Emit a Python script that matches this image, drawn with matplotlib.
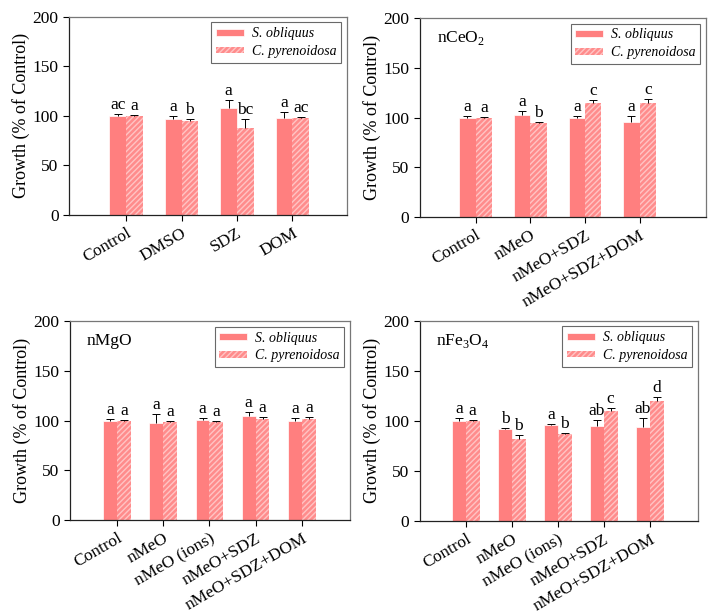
import matplotlib
matplotlib.use('Agg')
import matplotlib.pyplot as plt
import numpy as np

plt.rcParams['font.family'] = ['Liberation Serif', 'DejaVu Serif']
plt.rcParams['mathtext.fontset'] = 'custom'
plt.rcParams['mathtext.rm'] = 'Liberation Serif'
plt.rcParams['hatch.linewidth'] = 1.0

series_names = ['S. obliquus', 'C. pyrenoidosa']

# Panel 1: controls
cats_1 = ['Control', 'DMSO', 'SDZ', 'DOM']
s_1 = [99.5, 97, 108, 97.5]
s_err_1 = [2, 2.5, 8, 6]
c_1 = [99.5, 95, 88, 98.2]
c_err_1 = [1.5, 2, 9, 0.8]
s_lab_1 = ['ac', 'a', 'a', 'a']
c_lab_1 = ['a', 'b', 'bc', 'ac']

# Panel 2: nCeO2
cats_2 = ['Control', 'nMeO', 'nMeO+SDZ', 'nMeO+SDZ+DOM']
s_2 = [99.5, 102.5, 99.5, 95.5]
s_err_2 = [2.5, 4, 2, 6.5]
c_2 = [99.5, 94, 114.3, 114.6]
c_err_2 = [1.5, 1, 3.5, 4.5]
s_lab_2 = ['a', 'a', 'a', 'a']
c_lab_2 = ['a', 'b', 'c', 'c']

# Panel 3: nMgO
cats_3 = ['Control', 'nMeO', 'nMeO (ions)', 'nMeO+SDZ', 'nMeO+SDZ+DOM']
s_3 = [100, 98, 100.7, 104.3, 99.3]
s_err_3 = [2, 9, 1.5, 4.7, 3.7]
c_3 = [100, 98.5, 99, 102, 101.3]
c_err_3 = [1, 1, 1, 2, 2.7]
s_lab_3 = ['a', 'a', 'a', 'a', 'a']
c_lab_3 = ['a', 'a', 'a', 'a', 'a']

# Panel 4: nFe3O4
cats_4 = ['Control', 'nMeO', 'nMeO (ions)', 'nMeO+SDZ', 'nMeO+SDZ+DOM']
s_4 = [100, 92.3, 96.3, 94.7, 93.7]
s_err_4 = [2.5, 1, 0.8, 6.6, 9.3]
c_4 = [100, 81.7, 86.7, 109.7, 120]
c_err_4 = [1, 4, 1.7, 2.7, 4.3]
s_lab_4 = ['a', 'b', 'a', 'ab', 'ab']
c_lab_4 = ['a', 'b', 'b', 'c', 'd']

bar_color = '#ff7f7f'
hatch_face = '#ff8c8c'
hatch_line = '#ffc4c4'
width = 0.3
fs = 12.5

fig = plt.figure(figsize=(7.14, 6.14), dpi=100)


def err_up(ax, x, v, e):
    zeros = np.zeros(len(v))
    _, caps, _ = ax.errorbar(x, v, yerr=[zeros, e], fmt='none', ecolor='black',
                             elinewidth=0.7, capsize=3, capthick=0.7)
    # keep only the upper cap
    caps[0].set_visible(False)


def panel(rect, cats, s, s_err, c, c_err, s_lab, c_lab, xlim, title=None):
    ax = fig.add_axes(rect)
    x = np.arange(len(cats))
    ax.bar(x - width / 2, s, width, color=bar_color, edgecolor='white',
           linewidth=0.5, label=series_names[0])
    ax.bar(x + width / 2, c, width, color=hatch_face, edgecolor=hatch_line,
           linewidth=0, hatch='//////', label=series_names[1])
    err_up(ax, x - width / 2, s, s_err)
    err_up(ax, x + width / 2, c, c_err)
    for xi, v, e, t in zip(x - width / 2, s, s_err, s_lab):
        ax.text(xi, v + e + 1, t, ha='center', va='bottom', fontsize=fs)
    for xi, v, e, t in zip(x + width / 2, c, c_err, c_lab):
        ax.text(xi, v + e + 1, t, ha='center', va='bottom', fontsize=fs)

    ax.set_ylim(0, 200)
    ax.set_xlim(*xlim)
    ax.set_yticks([0, 50, 100, 150, 200])
    ax.set_xticks(x)
    ax.set_xticklabels(cats, rotation=30, ha='right', rotation_mode='anchor',
                       fontsize=fs)
    ax.tick_params(axis='y', labelsize=fs, direction='out', length=4, width=0.8)
    ax.tick_params(axis='x', direction='out', length=4, width=0.8)
    ax.set_ylabel('Growth (% of Control)', fontsize=13, labelpad=2)
    for side in ['left', 'bottom']:
        ax.spines[side].set_color('#222222')
        ax.spines[side].set_linewidth(0.9)
    for side in ['top', 'right']:
        ax.spines[side].set_color('#777777')
        ax.spines[side].set_linewidth(0.9)

    leg = ax.legend(loc='upper right', fontsize=10, frameon=True, fancybox=False,
                    handlelength=2.0, handleheight=0.35, handletextpad=0.55,
                    borderpad=0.35, labelspacing=0.35, borderaxespad=0.4)
    leg.get_frame().set_edgecolor('#444444')
    leg.get_frame().set_linewidth(0.8)
    for t in leg.get_texts():
        t.set_fontstyle('italic')
    if title:
        ax.text(0.06, 0.9, title, transform=ax.transAxes, fontsize=fs,
                ha='left', va='center')
    return ax


panel([0.0966, 0.650, 0.389, 0.3225], cats_1, s_1, s_err_1, c_1, c_err_1,
      s_lab_1, c_lab_1, (-1.03, 3.98))
panel([0.588, 0.6466, 0.4006, 0.324], cats_2, s_2, s_err_2, c_2, c_err_2,
      s_lab_2, c_lab_2, (-1.02, 4.21), title='nCeO$_2$')
panel([0.098, 0.153, 0.392, 0.324], cats_3, s_3, s_err_3, c_3, c_err_3,
      s_lab_3, c_lab_3, (-1.02, 5.04), title='nMgO')
panel([0.588, 0.1515, 0.389, 0.326], cats_4, s_4, s_err_4, c_4, c_err_4,
      s_lab_4, c_lab_4, (-1.0, 5.04), title='nFe$_3$O$_4$')

fig.savefig('out.png', dpi=100)
